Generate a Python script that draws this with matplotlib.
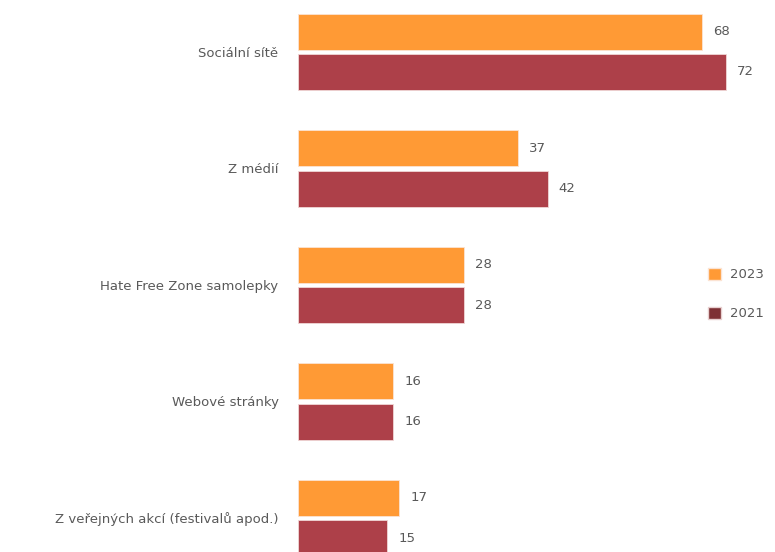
import matplotlib.pyplot as plt
from matplotlib.patches import Patch

# Dados
kategorie = ['Sociální sítě', 'Z médií', 'Hate Free Zone samolepky',
             'Webové stránky', 'Z veřejných akcí (festivalů apod.)']
hodnoty_2023 = [68, 37, 28, 16, 17]
hodnoty_2021 = [72, 42, 28, 16, 15]

barva_2023 = '#FF9A35'
barva_2021 = '#AD4049'
barva_legenda_2021 = '#7E3034'
sedy_text = '#595959'

fig = plt.figure(figsize=(7.75, 5.52), dpi=100)
ax = fig.add_axes([298 / 775, 0, 1 - 298 / 775, 1])

pozice = list(range(len(kategorie)))
posun = 0.172
vyska = 0.309

bary_2023 = ax.barh([p - posun for p in pozice], hodnoty_2023, height=vyska,
                    color=barva_2023, edgecolor='#fbe3d3', linewidth=0.6)
bary_2021 = ax.barh([p + posun for p in pozice], hodnoty_2021, height=vyska,
                    color=barva_2021, edgecolor='#f0d6d6', linewidth=0.6)

for bary, hodnoty in [(bary_2023, hodnoty_2023), (bary_2021, hodnoty_2021)]:
    for bar, h in zip(bary, hodnoty):
        ax.annotate(str(h), (bar.get_width(), bar.get_y() + bar.get_height() / 2),
                    xytext=(8, 0), textcoords='offset points',
                    va='center', ha='left', fontsize=9.5, color=sedy_text)

ax.set_xlim(0, 476 / 5.93)
ax.set_ylim(4.292, -0.446)
ax.set_yticks(pozice)
ax.set_yticklabels(kategorie, fontsize=9.5, color=sedy_text)
ax.tick_params(axis='y', length=0, pad=14)
ax.set_xticks([])
for s in ax.spines.values():
    s.set_visible(False)

legenda = [Patch(facecolor=barva_2023, edgecolor='#fbe3d3'),
           Patch(facecolor=barva_legenda_2021, edgecolor='#e8d0d0')]
fig.legend(legenda, ['2023', '2021'], loc='center left',
           bbox_to_anchor=(696 / 775, 1 - 294 / 552), frameon=False,
           fontsize=9.5, labelcolor=sedy_text, handlelength=1.0, handleheight=1.0,
           handletextpad=0.7, labelspacing=1.95)

fig.savefig('out.png', dpi=100)
